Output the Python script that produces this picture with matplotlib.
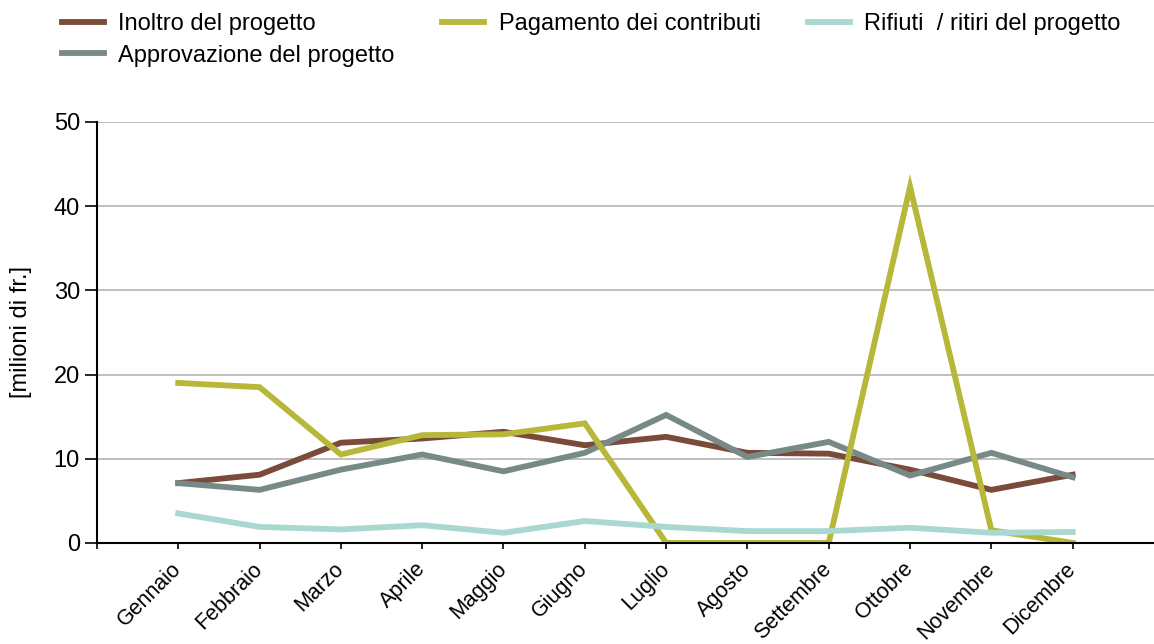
import matplotlib
matplotlib.use("Agg")
import matplotlib.pyplot as plt

plt.rcParams['font.family'] = ['Liberation Sans', 'DejaVu Sans']

months = ["Gennaio", "Febbraio", "Marzo", "Aprile", "Maggio", "Giugno",
          "Luglio", "Agosto", "Settembre", "Ottobre", "Novembre", "Dicembre"]
inoltro = [7.1, 8.1, 11.9, 12.4, 13.2, 11.6, 12.6, 10.7, 10.6, 8.7, 6.3, 8.1]
approvazione = [7.1, 6.3, 8.7, 10.5, 8.5, 10.7, 15.2, 10.2, 12.0, 8.0, 10.7, 7.8]
pagamento = [19.0, 18.5, 10.5, 12.8, 12.9, 14.2, 0.0, 0.0, 0.0, 42.3, 1.5, 0.0]
rifiuti = [3.5, 1.9, 1.6, 2.1, 1.2, 2.6, 1.9, 1.4, 1.4, 1.8, 1.2, 1.3]

series = [
    ("Inoltro del progetto", inoltro, "#7a4a3a"),
    ("Approvazione del progetto", approvazione, "#778a87"),
    ("Pagamento dei contributi", pagamento, "#b7b83a"),
    ("Rifiuti  / ritiri del progetto", rifiuti, "#a9d8d1"),
]

fig = plt.figure(figsize=(11.54, 6.44), dpi=100)
ax = fig.add_axes([0.084, 0.157, 0.916, 0.6536])

x = list(range(1, len(months) + 1))
for label, vals, col in series:
    ax.plot(x, vals, color=col, lw=4.2, label=label, solid_joinstyle='miter')

ax.set_xlim(0, 13)
ax.set_ylim(0, 50)
ax.set_yticks([0, 10, 20, 30, 40, 50])
ax.set_xticks([0] + x)
ax.set_xticklabels([""] + months, rotation=45, ha='right', va='center',
                   rotation_mode='anchor', fontsize=15.5)
ax.tick_params(axis='y', labelsize=17, length=8.6, width=1.2, direction='out', pad=3.6)
ax.tick_params(axis='x', length=4.5, width=1.2, direction='out', pad=12)
ax.yaxis.grid(True, color='#b4b4b4', lw=1.2)
ax.set_axisbelow(True)
for s in ['top', 'right']:
    ax.spines[s].set_visible(False)
for s in ['left', 'bottom']:
    ax.spines[s].set_linewidth(1.5)
ax.set_ylabel("[milioni di fr.]", fontsize=17, labelpad=16)

fig.legend(loc='upper left', bbox_to_anchor=(0.035, 1.0124), ncol=3, frameon=False,
           fontsize=17, handlelength=1.8, handletextpad=0.6, columnspacing=2.0,
           labelspacing=0.4)

fig.savefig("out.png", dpi=100)
